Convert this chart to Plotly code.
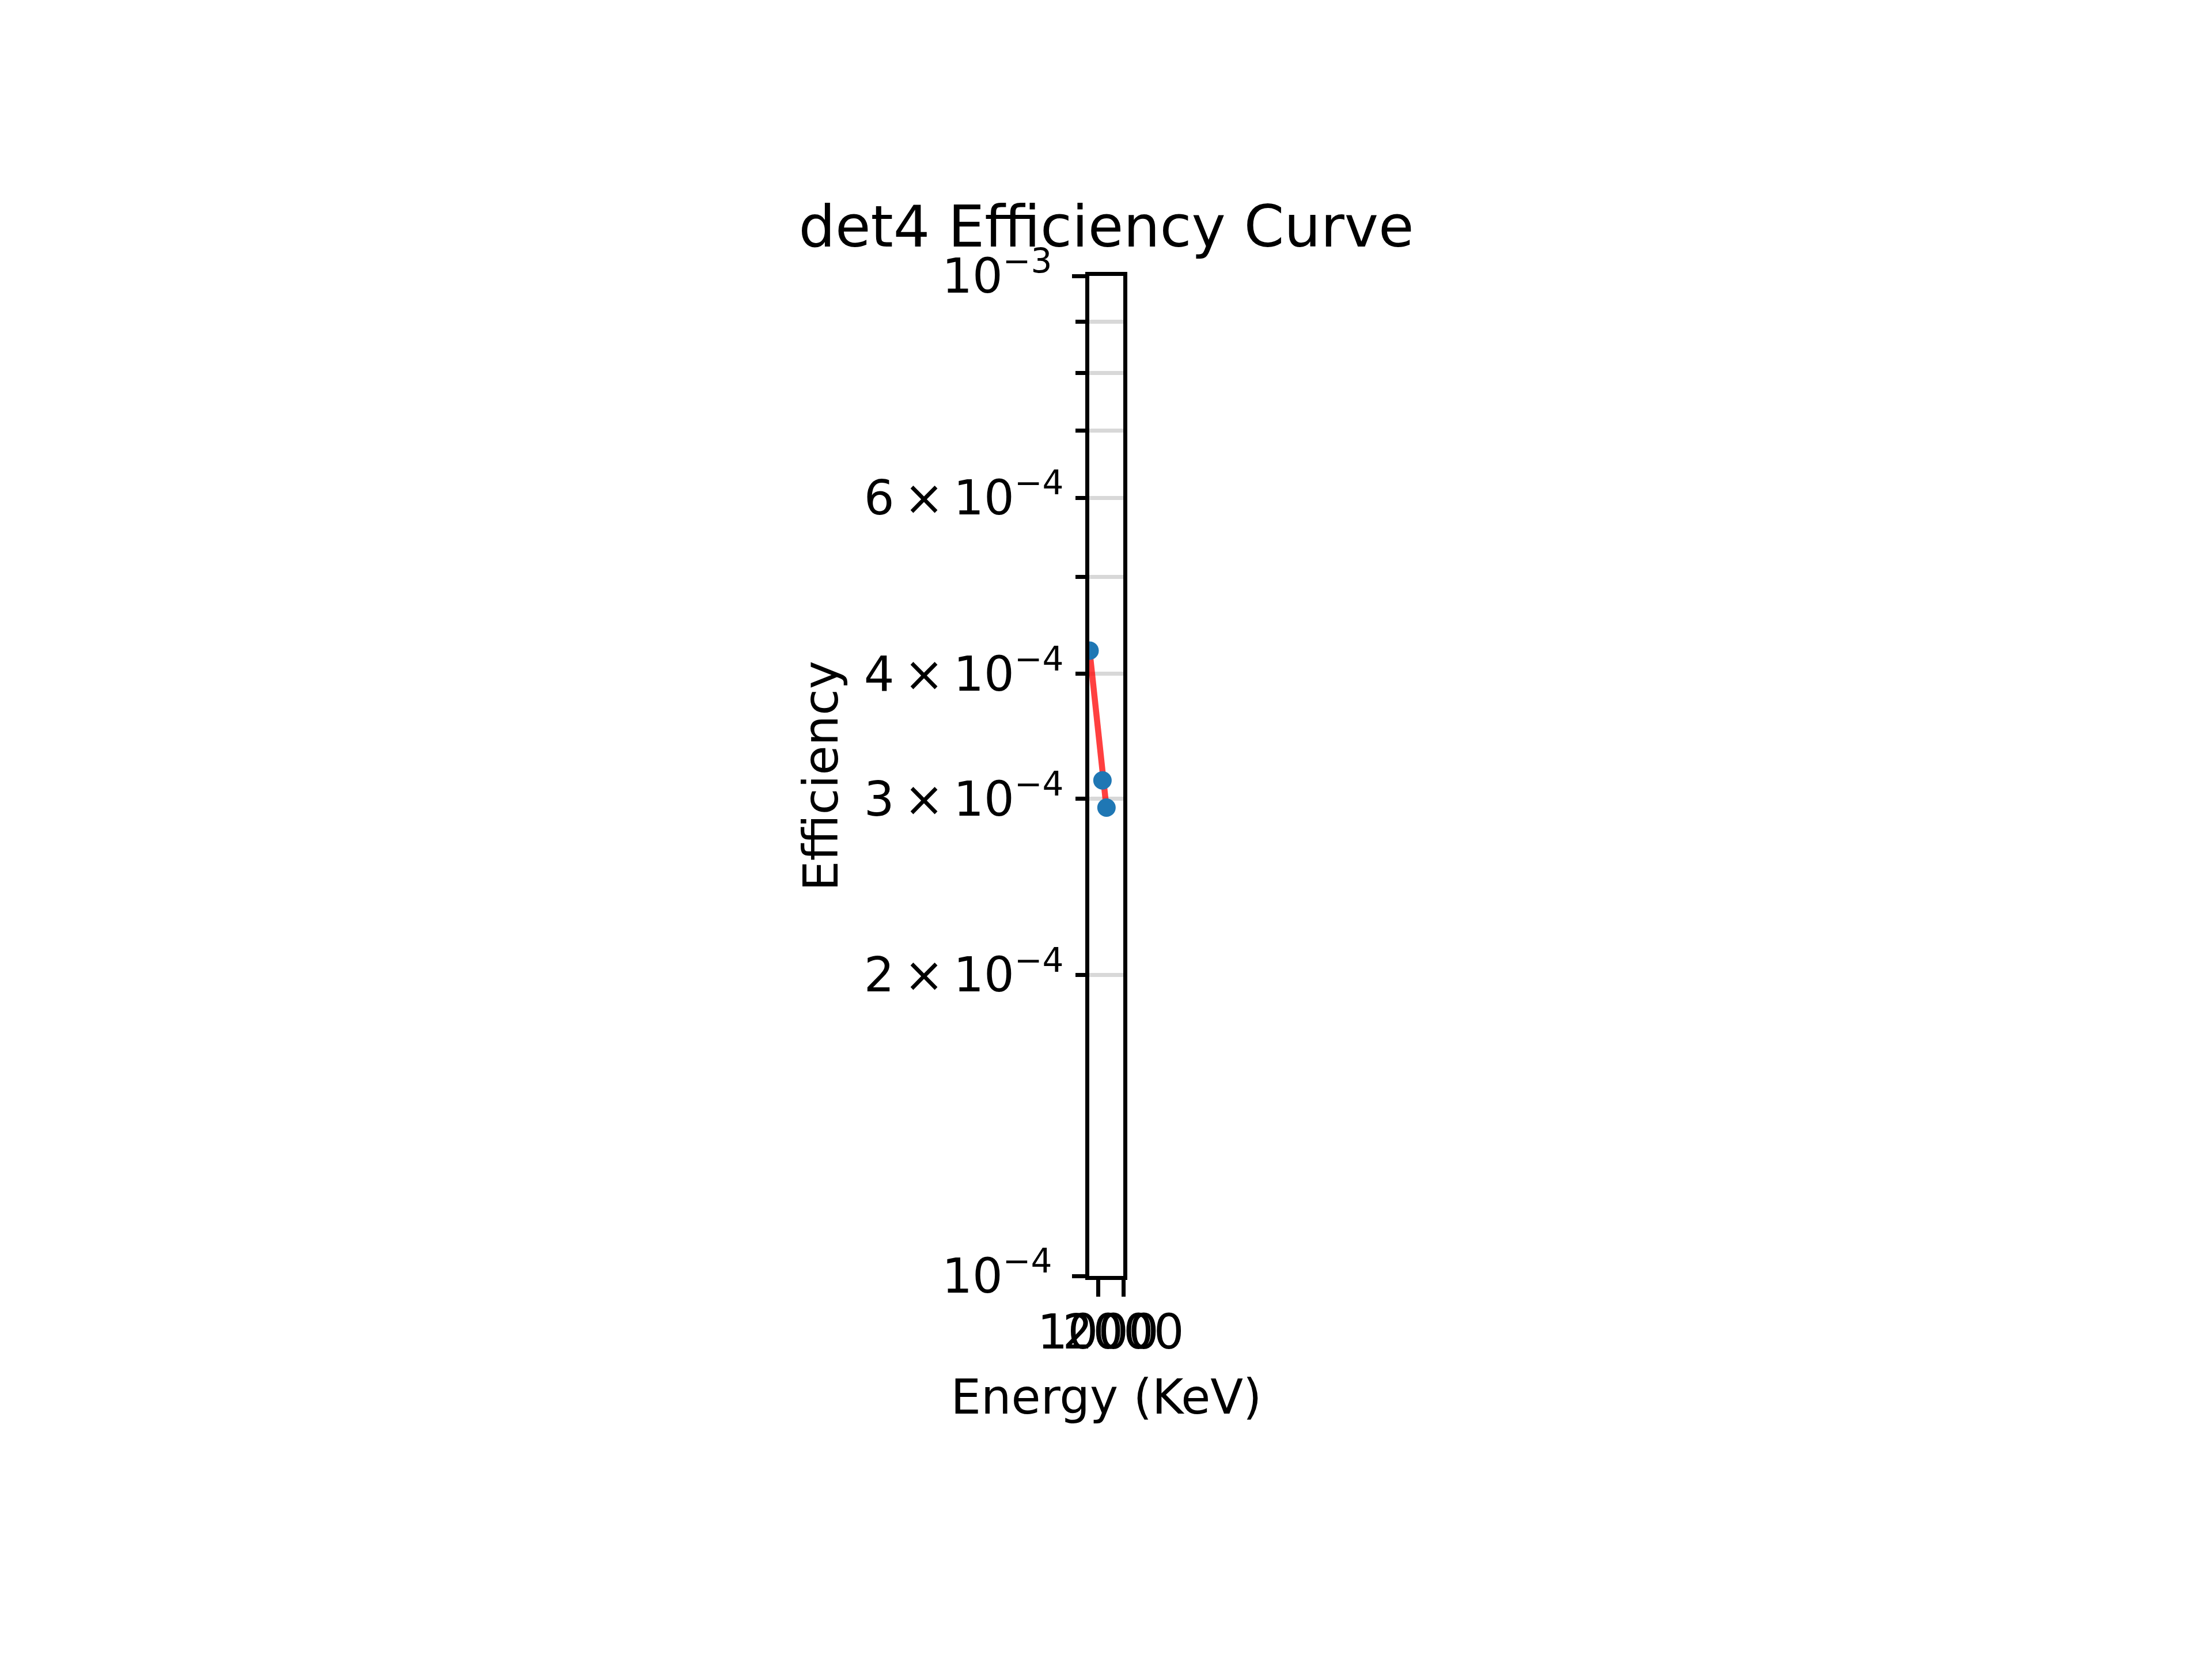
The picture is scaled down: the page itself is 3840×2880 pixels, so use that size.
import plotly.graph_objects as go

# Data
energy_kev = [661.7, 1173.2, 1332.5]
efficiency = [4.22e-4, 3.13e-4, 2.94e-4]
fit_efficiency = [4.22e-4, 3.135e-4, 2.935e-4]

x_tickvals = [1000, 2000]
x_ticktext = ["1000", "2000"]

minor_vals = [2e-4, 3e-4, 4e-4, 5e-4, 6e-4, 7e-4, 8e-4, 9e-4]
minor_text = ["2\u2009×\u200910<sup>−4</sup>", "3\u2009×\u200910<sup>−4</sup>",
              "4\u2009×\u200910<sup>−4</sup>", "", "6\u2009×\u200910<sup>−4</sup>",
              "", "", ""]
major_vals = [1e-4, 1e-3]
major_text = ["10<sup>−4</sup>", "10<sup>−3</sup>"]

FONT = "DejaVu Sans"
LW = 6.67

fig = go.Figure()
fig.add_trace(go.Scatter(x=energy_kev, y=fit_efficiency, mode="lines",
                         line=dict(color="rgba(255,0,0,0.75)", width=10.5),
                         showlegend=False, hoverinfo="skip"))
fig.add_trace(go.Scatter(x=energy_kev, y=efficiency, mode="markers",
                         marker=dict(color="#1f77b4", size=32, line=dict(width=0)),
                         showlegend=False))
# invisible trace to attach the major-tick y axis
fig.add_trace(go.Scatter(x=energy_kev, y=efficiency, mode="markers", yaxis="y2",
                         marker=dict(opacity=0), showlegend=False, hoverinfo="skip"))

fig.update_layout(
    width=3840, height=2880,
    paper_bgcolor="white", plot_bgcolor="white",
    margin=dict(l=1883, r=1898, t=471, b=673, pad=0),
    font=dict(family=FONT, size=83, color="black"),
    title=dict(text="det4 Efficiency Curve", font=dict(family=FONT, size=100, color="black"),
               x=0.5, xanchor="center", xref="paper",
               y=(2880 - 420) / 2880, yanchor="bottom", yref="container"),
    xaxis=dict(type="linear", range=[650, 2000], tickvals=x_tickvals, ticktext=x_ticktext,
               tickangle=0, ticks="outside", ticklen=29, tickwidth=LW, tickcolor="black",
               showline=True, linewidth=LW, linecolor="black", mirror=True,
               showgrid=False, zeroline=False, automargin=False,
               ticklabelstandoff=-9,
               tickfont=dict(family=FONT, size=83, color="black"),
               title=dict(text="Energy (KeV)", standoff=38,
                          font=dict(family=FONT, size=83, color="black"))),
    yaxis=dict(type="log", range=[-4, -3], tickvals=minor_vals, ticktext=minor_text,
               ticks="outside", ticklen=17, tickwidth=LW, tickcolor="black",
               showline=True, linewidth=LW, linecolor="black", mirror=True,
               showgrid=True, gridcolor="#d8d8d8", gridwidth=LW, zeroline=False,
               automargin=False, ticklabelstandoff=4,
               tickfont=dict(family=FONT, size=83, color="black"),
               title=dict(text="Efficiency", standoff=20,
                          font=dict(family=FONT, size=83, color="black"))),
    yaxis2=dict(type="log", range=[-4, -3], overlaying="y", side="left", anchor="x",
                tickvals=major_vals, ticktext=major_text,
                ticks="outside", ticklen=29, tickwidth=LW, tickcolor="black",
                showline=False, showgrid=False, zeroline=False, automargin=False,
                ticklabelstandoff=18,
                tickfont=dict(family=FONT, size=83, color="black")),
)

fig.write_html("out.html")
